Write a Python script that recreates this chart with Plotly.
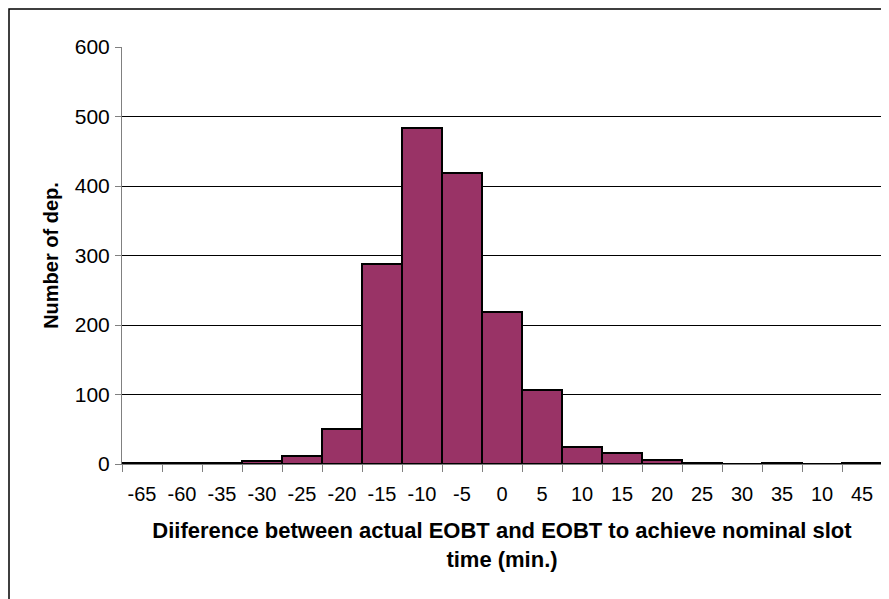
import plotly.graph_objects as go

categories = ["-65", "-60", "-35", "-30", "-25", "-20", "-15", "-10", "-5", "0",
              "5", "10", "15", "20", "25", "30", "35", "10", "45"]
counts = [1, 2, 1, 4, 11, 50, 288, 483, 419, 219, 106, 25, 16, 6, 1, 0, 2, 0, 2]
y_ticks = [0, 100, 200, 300, 400, 500, 600]

positions = list(range(len(categories)))

fig = go.Figure()
fig.add_trace(go.Bar(
    x=positions, y=counts,
    marker=dict(color="#993366", line=dict(color="#000000", width=2)),
    width=1.0,
))

font_family = "Liberation Sans, Arial, sans-serif"

fig.update_layout(
    width=881, height=591,
    margin=dict(l=114, r=7, t=39, b=135),
    paper_bgcolor="white", plot_bgcolor="white",
    showlegend=False, bargap=0,
    font=dict(family=font_family, color="#000000", size=18),
    xaxis=dict(
        tickmode="array", tickvals=positions, ticktext=categories,
        range=[-0.5, len(categories) - 0.5],
        ticks="", showgrid=False, zeroline=False,
        showline=True, linecolor="#808080", linewidth=1,
        tickfont=dict(size=20),
        ticklabelstandoff=12,
        minor=dict(tickvals=[p - 0.5 for p in positions] + [len(categories) - 0.5],
                   ticks="outside", ticklen=7, tickcolor="#808080", tickwidth=1,
                   showgrid=False),
        title=dict(text="<b>Diiference between actual EOBT and EOBT to achieve nominal slot<br>time (min.)</b>",
                   font=dict(size=22), standoff=18),
    ),
    yaxis=dict(
        range=[0, 600], tickmode="array", tickvals=y_ticks,
        ticks="outside", ticklen=6, tickcolor="#808080",
        showgrid=True, gridcolor="#000000", gridwidth=1,
        zeroline=False, showline=True, linecolor="#808080", linewidth=1,
        tickfont=dict(size=21), ticklabelstandoff=1,
        title=dict(text="<b>Number of dep.</b>", font=dict(size=20), standoff=10),
    ),
    shapes=[dict(type="rect", xref="paper", yref="paper",
                 x0=-113 / 760, x1=1.2, y0=-0.6, y1=455 / 417,
                 line=dict(color="#000000", width=1.5), fillcolor="rgba(0,0,0,0)",
                 layer="below")],
)

fig.write_html("out.html")
